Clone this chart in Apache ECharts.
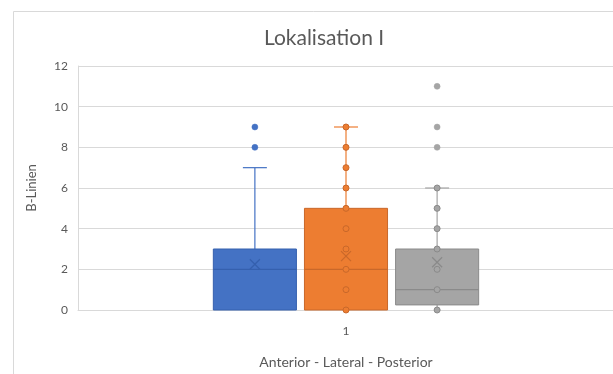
<!DOCTYPE html>
<html>
<head>
<meta charset="utf-8">
<script src="https://cdn.jsdelivr.net/npm/echarts@6/dist/echarts.min.js"></script>
<style>
  html, body { margin: 0; padding: 0; background: #ffffff; }
  #chart { width: 613px; height: 374px; }
</style>
</head>
<body>
<div id="chart"></div>
<script>
// Category and axis ticks
const categories = ['1'];
const seriesNames = ['Anterior', 'Lateral', 'Posterior'];
const yTicks = [0, 2, 4, 6, 8, 10, 12];

// Box statistics per series: [min, Q1, median, Q3, max]
const anteriorBox = [0, 0, 2, 3, 7];
const lateralBox = [0, 0, 2, 5, 9];
const posteriorBox = [0, 0.25, 1, 3, 6];

// Means (drawn as X)
const anteriorMean = 2.25;
const lateralMean = 2.65;
const posteriorMean = 2.35;

// Inner points inside the whiskers
const anteriorInner = [];
const lateralInner = [0, 1, 2, 3, 4, 5, 6, 7, 8, 9];
const posteriorInner = [0, 1, 2, 3, 4, 5, 6];

// Outliers beyond the whiskers
const anteriorOutliers = [8, 9];
const lateralOutliers = [];
const posteriorOutliers = [8, 9, 11];

const groups = [
  { name: seriesNames[0], box: anteriorBox, mean: anteriorMean, inner: anteriorInner, outliers: anteriorOutliers,
    fill: '#4472C4', dark: '#3560AE', offset: -1 },
  { name: seriesNames[1], box: lateralBox, mean: lateralMean, inner: lateralInner, outliers: lateralOutliers,
    fill: '#ED7D31', dark: '#C9682A', offset: 0 },
  { name: seriesNames[2], box: posteriorBox, mean: posteriorMean, inner: posteriorInner, outliers: posteriorOutliers,
    fill: '#A5A5A5', dark: '#8A8A8A', offset: 1 }
];

const BOX_FRAC = 0.155;   // box width as fraction of category band
const STEP_FRAC = 0.17;   // distance between box centres as fraction of band
const CAP_PX = 24;

function boxRender(g) {
  return function (params, api) {
    const band = api.size([1, 0])[0];
    const cx0 = api.coord([api.value(0), 0])[0];
    const cx = cx0 + g.offset * STEP_FRAC * band;
    const w = band * BOX_FRAC;
    const y = v => api.coord([0, v])[1];
    const mn = api.value(1), q1 = api.value(2), md = api.value(3), q3 = api.value(4), mx = api.value(5), mean = api.value(6);
    const children = [];
    // upper whisker
    children.push({ type: 'line', shape: { x1: cx, y1: y(q3), x2: cx, y2: y(mx) }, style: { stroke: g.fill, lineWidth: 1.2 } });
    children.push({ type: 'line', shape: { x1: cx - CAP_PX / 2, y1: y(mx), x2: cx + CAP_PX / 2, y2: y(mx) }, style: { stroke: g.fill, lineWidth: 1.2 } });
    // lower whisker
    if (q1 > mn) {
      children.push({ type: 'line', shape: { x1: cx, y1: y(q1), x2: cx, y2: y(mn) }, style: { stroke: g.fill, lineWidth: 1.2 } });
      children.push({ type: 'line', shape: { x1: cx - 3, y1: y(mn), x2: cx + 3, y2: y(mn) }, style: { stroke: g.dark, lineWidth: 1 } });
    }
    // box
    children.push({ type: 'rect', shape: { x: cx - w / 2, y: y(q3), width: w, height: y(q1) - y(q3) },
      style: { fill: g.fill, stroke: g.dark, lineWidth: 1 } });
    // median
    children.push({ type: 'line', shape: { x1: cx - w / 2, y1: y(md), x2: cx + w / 2, y2: y(md) }, style: { stroke: g.dark, lineWidth: 1.2 } });
    // mean X
    const my = y(mean), s = 5;
    children.push({ type: 'line', shape: { x1: cx - s, y1: my - s, x2: cx + s, y2: my + s }, style: { stroke: g.dark, lineWidth: 1.2 } });
    children.push({ type: 'line', shape: { x1: cx - s, y1: my + s, x2: cx + s, y2: my - s }, style: { stroke: g.dark, lineWidth: 1.2 } });
    return { type: 'group', children: children };
  };
}

function pointRender(g, hollow) {
  return function (params, api) {
    const band = api.size([1, 0])[0];
    const c = api.coord([api.value(0), api.value(1)]);
    const cx = c[0] + g.offset * STEP_FRAC * band;
    return {
      type: 'circle',
      shape: { cx: cx, cy: c[1], r: 3 },
      style: hollow ? { fill: g.fill, stroke: g.dark, lineWidth: 1 } : { fill: g.fill, stroke: g.fill, lineWidth: 0.5 }
    };
  };
}

const series = [];
groups.forEach(g => {
  series.push({
    name: g.name, type: 'custom', renderItem: boxRender(g),
    data: [[0].concat(g.box).concat([g.mean])], z: 2, silent: true
  });
  series.push({
    name: g.name, type: 'custom', renderItem: pointRender(g, true),
    data: g.inner.map(v => [0, v]), z: 3, silent: true
  });
  series.push({
    name: g.name, type: 'custom', renderItem: pointRender(g, false),
    data: g.outliers.map(v => [0, v]), z: 3, silent: true
  });
});

const chart = echarts.init(document.getElementById('chart'), null, { renderer: 'canvas' });
chart.setOption({
  animation: false,
  backgroundColor: '#ffffff',
  title: {
    text: 'Lokalisation I',
    left: 319, top: 23, textAlign: 'center',
    textStyle: { fontFamily: 'Lato', fontSize: 21, fontWeight: 'normal', color: '#595959' }
  },
  graphic: [{
    type: 'rect', silent: true, z: -10,
    shape: { x: 13.5, y: 11.5, width: 700, height: 500 },
    style: { fill: 'none', stroke: '#d9d9d9', lineWidth: 1 }
  }],
  grid: { left: 78, top: 66, width: 536, height: 244, outerBoundsMode: 'none', containLabel: false },
  xAxis: {
    type: 'category', data: categories,
    name: 'Anterior - Lateral - Posterior', nameLocation: 'middle', nameGap: 45,
    nameTextStyle: { fontFamily: 'Lato', fontSize: 14, color: '#595959' },
    axisLine: { show: true, lineStyle: { color: '#d9d9d9' } },
    axisTick: { show: false },
    axisLabel: { margin: 15, fontFamily: 'Lato', fontSize: 12, color: '#595959' }
  },
  yAxis: {
    type: 'value', min: yTicks[0], max: yTicks[yTicks.length - 1], interval: 2,
    name: 'B-Linien', nameLocation: 'middle', nameGap: 40,
    nameTextStyle: { fontFamily: 'Lato', fontSize: 13, color: '#595959' },
    axisLine: { show: true, lineStyle: { color: '#d9d9d9' } },
    axisTick: { show: false },
    axisLabel: { margin: 10, fontFamily: 'Lato', fontSize: 12, color: '#595959' },
    splitLine: { lineStyle: { color: '#d9d9d9' } }
  },
  series: series
});
</script>
</body>
</html>
